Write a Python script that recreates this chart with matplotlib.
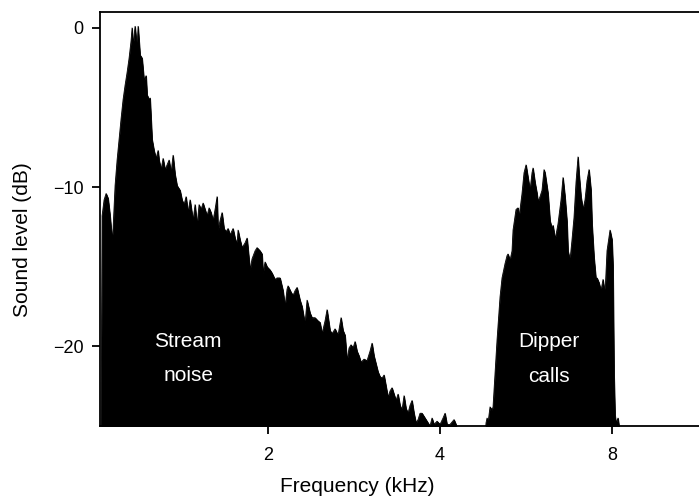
import matplotlib
matplotlib.use("Agg")
import matplotlib.pyplot as plt
from matplotlib.ticker import NullLocator

plt.rcParams['font.family'] = ['Liberation Sans', 'DejaVu Sans']

# spectrum of the stream noise (kHz, dB)
noise_freq = [1.0204, 1.0245, 1.0328, 1.0412, 1.0496, 1.0581, 1.0667, 1.0710, 1.0796, 1.0884,
              1.0972, 1.1060, 1.1150, 1.1240, 1.1331, 1.1423, 1.1515, 1.1562, 1.1608, 1.1702,
              1.1797, 1.1845, 1.1941, 1.2038, 1.2135, 1.2233, 1.2283, 1.2382, 1.2432, 1.2533,
              1.2634, 1.2736, 1.2839, 1.2891, 1.2995, 1.3100, 1.3207, 1.3313, 1.3421, 1.3529,
              1.3639, 1.3749, 1.3861, 1.4029, 1.4142, 1.4257, 1.4372, 1.4489, 1.4606, 1.4784,
              1.4903, 1.5024, 1.5146, 1.5268, 1.5392, 1.5517, 1.5642, 1.5769, 1.5896, 1.6025,
              1.6154, 1.6285, 1.6351, 1.6482, 1.6615, 1.6750, 1.6885, 1.7022, 1.7160, 1.7369,
              1.7509, 1.7651, 1.7722, 1.7866, 1.8011, 1.8230, 1.8377, 1.8601, 1.8751, 1.8980,
              1.9133, 1.9366, 1.9523, 1.9601, 1.9760, 1.9920, 2.0162, 2.0325, 2.0572, 2.0739,
              2.0991, 2.1246, 2.1418, 2.1592, 2.1679, 2.1942, 2.2120, 2.2299, 2.2479, 2.2753,
              2.2937, 2.3216, 2.3404, 2.3688, 2.3880, 2.4170, 2.4464, 2.4662, 2.4862, 2.5164,
              2.5368, 2.5677, 2.5885, 2.6200, 2.6518, 2.6841, 2.7058, 2.7277, 2.7498, 2.7721,
              2.7944, 2.8170, 2.8399, 2.8629, 2.8860, 2.9093, 2.9447, 2.9805, 3.0168, 3.0412,
              3.0658, 3.0907, 3.1157, 3.1409, 3.1663, 3.1919, 3.2178, 3.2438, 3.2700, 3.2965,
              3.3231, 3.3500, 3.3772, 3.4045, 3.4320, 3.4598, 3.4878, 3.5161, 3.5445, 3.5732,
              3.6021, 3.6313, 3.6607, 3.6902, 3.7201, 3.7653, 3.8111, 3.8420, 3.8731, 3.9044,
              3.9520, 4.0000, 4.0486, 4.0814, 4.1145, 4.1645, 4.2322, 4.2665, 4.3010]
noise_db = [-25.5, -11.8, -10.8, -10.4, -10.7, -11.8, -13.3, -12.6, -9.9, -8.3,
            -7.0, -5.7, -4.5, -3.6, -2.8, -1.9, -0.8, 0.0, -1.1, 0.1,
            -1.3, 0.1, -1.7, -1.9, -3.3, -3.0, -4.2, -4.5, -4.4, -7.0,
            -7.7, -8.2, -7.7, -8.3, -8.9, -8.2, -8.9, -8.6, -8.3, -9.1,
            -8.0, -9.2, -9.9, -10.2, -10.8, -11.1, -10.6, -11.6, -10.8, -12.1,
            -11.1, -12.4, -11.1, -11.4, -11.0, -11.4, -11.8, -11.3, -11.6, -12.1,
            -11.4, -10.6, -12.7, -12.1, -11.6, -12.6, -12.8, -12.6, -13.0, -12.6,
            -13.2, -13.6, -12.7, -13.3, -13.8, -13.5, -13.2, -15.2, -14.5, -14.0,
            -13.8, -14.0, -14.2, -15.4, -14.7, -15.0, -15.2, -15.4, -15.8, -15.7,
            -15.7, -16.5, -17.5, -16.4, -16.2, -16.6, -16.8, -16.5, -16.3, -17.1,
            -17.5, -18.6, -17.1, -17.9, -18.2, -18.2, -18.4, -18.5, -19.2, -18.4,
            -17.7, -19.0, -19.2, -18.9, -19.3, -18.2, -19.0, -19.3, -20.9, -20.1,
            -19.9, -20.1, -19.7, -20.3, -20.6, -21.0, -20.8, -20.9, -20.3, -19.8,
            -20.6, -21.1, -21.6, -21.9, -22.0, -21.8, -22.5, -23.2, -22.8, -22.6,
            -23.0, -23.4, -23.0, -23.7, -24.0, -23.1, -23.9, -24.2, -23.7, -23.4,
            -24.2, -24.8, -24.6, -24.2, -24.2, -24.5, -24.8, -25.0, -24.5, -24.9,
            -24.7, -24.9, -24.5, -24.2, -24.9, -24.9, -24.6, -24.9, -25.5]

# spectrum of the dipper calls
dipper_freq = [4.7955, 4.8148, 4.8343, 4.8538, 4.8931, 4.9327, 4.9526, 4.9927, 5.0331, 5.0942,
               5.1354, 5.1979, 5.2400, 5.2611, 5.3037, 5.3466, 5.3682, 5.4335, 5.4775, 5.4996,
               5.5664, 5.6114, 5.6569, 5.7027, 5.7487, 5.7952, 5.8186, 5.8657, 5.9132, 5.9371,
               5.9851, 6.0335, 6.0824, 6.1070, 6.1812, 6.2312, 6.2816, 6.3070, 6.3581, 6.3837,
               6.4354, 6.5136, 6.5663, 6.6195, 6.6731, 6.7000, 6.7542, 6.8088, 6.8640, 6.9195,
               6.9755, 7.0037, 7.0604, 7.1175, 7.1752, 7.2333, 7.2918, 7.3508, 7.3804, 7.4402,
               7.5004, 7.5307, 7.5917, 7.6531, 7.7150, 7.7775, 7.8405, 7.9357, 8.0000, 8.0322,
               8.0647, 8.0973, 8.1300, 8.1958, 8.2621]
dipper_db = [-25.5, -24.8, -24.5, -24.8, -23.8, -24.0, -23.8, -21.7, -19.6, -16.9,
             -15.7, -14.8, -14.3, -14.2, -14.6, -14.0, -12.7, -11.4, -11.3, -11.9,
             -10.4, -9.1, -8.6, -9.4, -10.2, -9.1, -8.8, -9.7, -10.4, -10.9,
             -10.6, -10.2, -8.9, -9.1, -10.4, -12.1, -12.6, -12.4, -13.2, -13.0,
             -12.3, -10.8, -9.4, -10.6, -12.2, -14.0, -14.6, -13.3, -11.9, -9.7,
             -8.1, -9.1, -10.6, -11.4, -10.8, -9.6, -8.9, -10.2, -12.3, -14.4,
             -15.8, -15.7, -16.0, -16.5, -15.8, -16.7, -14.0, -12.7, -13.3, -15.0,
             -21.7, -24.3, -24.8, -24.5, -25.5]

freq_ticks = [2, 4, 8]
db_ticks = [0, -10, -20]

fig = plt.figure(figsize=(6.99, 5.03), dpi=100)
ax = fig.add_axes([100 / 699, 1 - 426 / 503, 599 / 699, 414 / 503])

ax.fill_between(noise_freq, noise_db, -30, color='black', lw=0.6)
ax.fill_between(dipper_freq, dipper_db, -30, color='black', lw=0.6)
ax.plot(noise_freq, noise_db, color='black', lw=0.6)
ax.plot(dipper_freq, dipper_db, color='black', lw=0.6)

ax.set_xscale('log', base=2)
ax.set_xlim(1.016, 11.36)
ax.set_ylim(-25, 1)
ax.set_xticks(freq_ticks)
ax.set_xticklabels([str(t) for t in freq_ticks])
ax.xaxis.set_minor_locator(NullLocator())
ax.set_yticks(db_ticks)

ax.spines['right'].set_visible(False)
for s in ['left', 'bottom', 'top']:
    ax.spines[s].set_linewidth(1.3)
ax.tick_params(axis='x', direction='out', length=6, width=1.3, labelsize=13, pad=9)
ax.tick_params(axis='y', direction='out', length=6, width=1.3, labelsize=13, pad=6)

ax.text(1.449, -20.06, 'Stream', color='white', fontsize=15, ha='center', va='baseline')
ax.text(1.449, -22.2, 'noise', color='white', fontsize=15, ha='center', va='baseline')
ax.text(6.206, -20.06, 'Dipper', color='white', fontsize=15, ha='center', va='baseline')
ax.text(6.206, -22.26, 'calls', color='white', fontsize=15, ha='center', va='baseline')

fig.text(357 / 699, 1 - 487 / 503, 'Frequency (kHz)', fontsize=15, ha='center', va='center')
fig.text(23 / 699, 1 - 240 / 503, 'Sound level (dB)', fontsize=15, ha='center', va='center',
         rotation=90)

fig.savefig('out.png', dpi=100)
